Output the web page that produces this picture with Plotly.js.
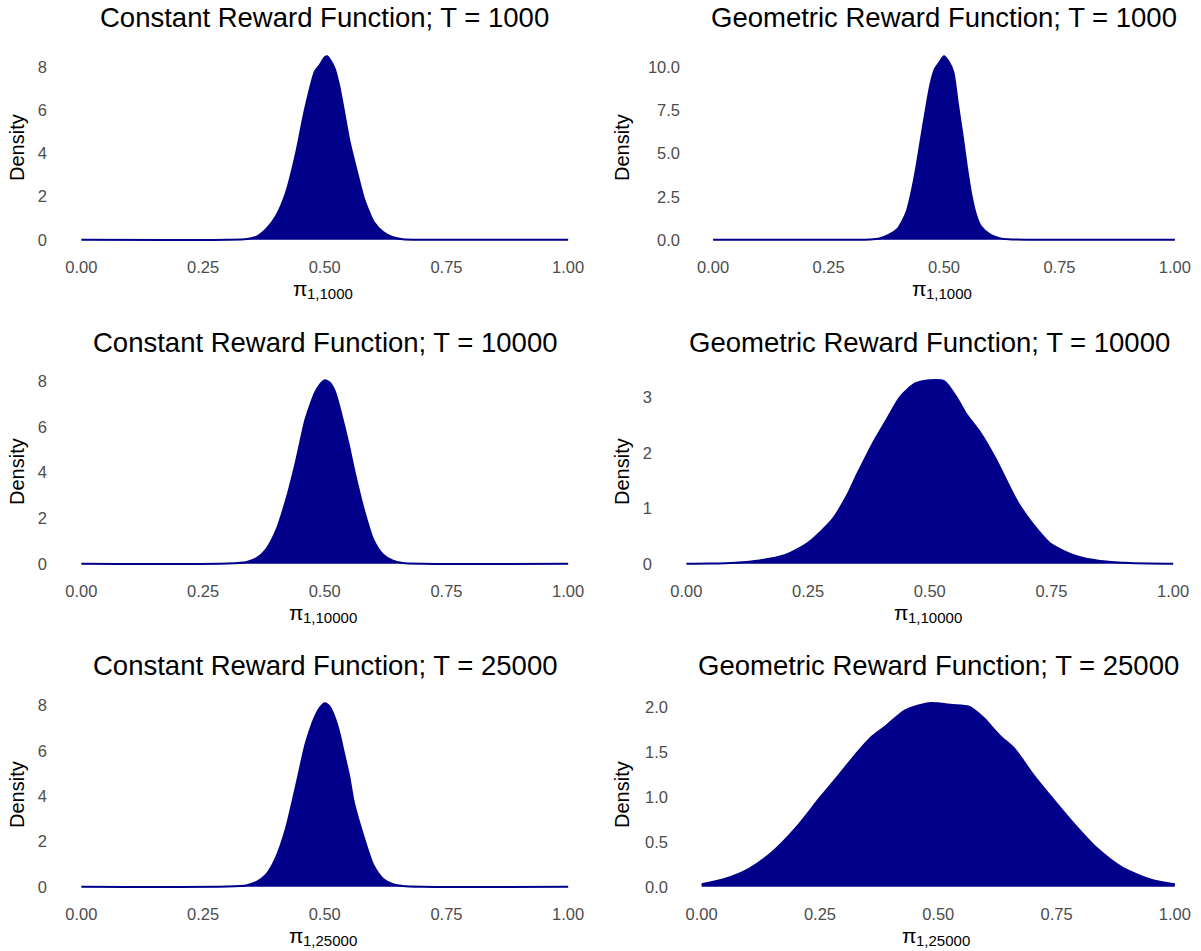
<!DOCTYPE html>
<html>
<head>
<meta charset="utf-8">
<script src="https://cdn.plot.ly/plotly-3.0.1.min.js"></script>
<style>html,body{margin:0;padding:0;background:#ffffff;}</style>
</head>
<body>
<div id="chart" style="width:1201px;height:951px;"></div>
<script>
// ---------- data ----------
const panelTitles = [
  "Constant Reward Function; T = 1000",
  "Geometric Reward Function; T = 1000",
  "Constant Reward Function; T = 10000",
  "Geometric Reward Function; T = 10000",
  "Constant Reward Function; T = 25000",
  "Geometric Reward Function; T = 25000"
];
const xAxisSymbol = "π";
const xAxisSubscripts = ["1,1000", "1,1000", "1,10000", "1,10000", "1,25000", "1,25000"];
const yAxisTitle = "Density";

const xTickVals = [0, 0.25, 0.5, 0.75, 1];
const xTickText = ["0.00", "0.25", "0.50", "0.75", "1.00"];
const yTickValsConst = [0, 2, 4, 6, 8];
const yTickTextConst = ["0", "2", "4", "6", "8"];
const yTickValsGeo1000 = [0, 2.5, 5, 7.5, 10];
const yTickTextGeo1000 = ["0.0", "2.5", "5.0", "7.5", "10.0"];
const yTickValsGeo10000 = [0, 1, 2, 3];
const yTickTextGeo10000 = ["0", "1", "2", "3"];
const yTickValsGeo25000 = [0, 0.5, 1, 1.5, 2];
const yTickTextGeo25000 = ["0.0", "0.5", "1.0", "1.5", "2.0"];

// Constant, T = 1000
const const1000X = [0, 0.30, 0.34, 0.36, 0.38, 0.40, 0.42, 0.44, 0.46, 0.48, 0.49, 0.50, 0.505, 0.52, 0.53, 0.54, 0.55, 0.56, 0.57, 0.58, 0.59, 0.60, 0.62, 0.64, 0.66, 0.70, 1];
const const1000Y = [0, 0.005, 0.04, 0.15, 0.5, 1.1, 2.15, 3.9, 6.1, 7.8, 8.1, 8.45, 8.5, 7.95, 7.1, 5.9, 4.65, 3.7, 2.8, 1.95, 1.35, 0.85, 0.36, 0.12, 0.03, 0.005, 0];

// Geometric, T = 1000
const geo1000X = [0, 0.30, 0.34, 0.36, 0.38, 0.40, 0.41, 0.42, 0.43, 0.44, 0.45, 0.46, 0.47, 0.48, 0.49, 0.50, 0.51, 0.52, 0.53, 0.54, 0.55, 0.56, 0.57, 0.58, 0.60, 0.62, 0.64, 0.70, 1];
const geo1000Y = [0, 0.002, 0.02, 0.08, 0.28, 0.65, 1.1, 1.7, 2.8, 4.2, 5.85, 7.46, 8.95, 9.9, 10.3, 10.66, 10.35, 9.75, 7.9, 6.1, 4.15, 2.5, 1.4, 0.78, 0.3, 0.1, 0.03, 0.002, 0];

// Constant, T = 10000
const const10000X = [0, 0.30, 0.34, 0.36, 0.38, 0.40, 0.42, 0.44, 0.46, 0.47, 0.48, 0.49, 0.50, 0.51, 0.52, 0.53, 0.54, 0.55, 0.56, 0.58, 0.60, 0.62, 0.64, 0.66, 0.70, 1];
const const10000Y = [0, 0.01, 0.08, 0.25, 0.65, 1.45, 2.75, 4.4, 6.3, 6.95, 7.5, 7.85, 8.05, 7.95, 7.6, 6.9, 6.05, 5.15, 4.15, 2.4, 1.05, 0.4, 0.14, 0.04, 0.005, 0];

// Geometric, T = 10000
const geo10000X = [0, 0.05, 0.10, 0.15, 0.20, 0.25, 0.30, 0.33, 0.35, 0.37, 0.39, 0.41, 0.44, 0.47, 0.50, 0.53, 0.555, 0.575, 0.605, 0.635, 0.68, 0.71, 0.75, 0.80, 0.85, 0.90, 0.95, 1];
const geo10000Y = [0.002, 0.005, 0.02, 0.06, 0.15, 0.38, 0.8, 1.23, 1.6, 1.95, 2.28, 2.58, 3.02, 3.25, 3.31, 3.29, 3.0, 2.7, 2.35, 1.9, 1.12, 0.74, 0.35, 0.14, 0.05, 0.02, 0.006, 0.002];

// Constant, T = 25000
const const25000X = [0, 0.30, 0.34, 0.36, 0.38, 0.40, 0.42, 0.44, 0.46, 0.47, 0.48, 0.49, 0.50, 0.51, 0.52, 0.53, 0.54, 0.55, 0.56, 0.58, 0.60, 0.62, 0.64, 0.66, 0.70, 1];
const const25000Y = [0, 0.01, 0.07, 0.22, 0.55, 1.3, 2.55, 4.35, 6.25, 6.95, 7.5, 7.9, 8.1, 7.95, 7.5, 6.8, 5.85, 4.9, 3.7, 2.2, 0.95, 0.35, 0.12, 0.04, 0.005, 0];

// Geometric, T = 25000
const geo25000X = [0, 0.05, 0.10, 0.15, 0.20, 0.25, 0.285, 0.33, 0.36, 0.39, 0.43, 0.48, 0.53, 0.565, 0.595, 0.63, 0.66, 0.70, 0.74, 0.785, 0.835, 0.89, 0.95, 1];
const geo25000Y = [0.03, 0.09, 0.2, 0.39, 0.66, 0.99, 1.21, 1.5, 1.67, 1.79, 1.96, 2.04, 2.02, 2.0, 1.88, 1.68, 1.54, 1.25, 0.99, 0.71, 0.43, 0.21, 0.08, 0.03];

// ---------- layout geometry (pixels) ----------
const W = 1201, H = 951;
const FILL = "#00008B";
const FONT = "Liberation Sans, Arial, Helvetica, sans-serif";
const PI_SIZE = 21, SUB_SIZE = 15;

const measureCtx = document.createElement("canvas").getContext("2d");
function textWidth(t, size) {
  measureCtx.font = size + 'px "Liberation Sans", Arial, sans-serif';
  return measureCtx.measureText(t).width;
}

const panels = [
  {x: const1000X,  y: const1000Y,  tv: yTickValsConst,    tt: yTickTextConst,    L: 57,  R: 592.5, T: 47,  B: 249, ytx: 17},
  {x: geo1000X,    y: geo1000Y,    tv: yTickValsGeo1000,  tt: yTickTextGeo1000,  L: 690, R: 1198,  T: 47,  B: 249, ytx: 622},
  {x: const10000X, y: const10000Y, tv: yTickValsConst,    tt: yTickTextConst,    L: 57,  R: 592.5, T: 371, B: 573, ytx: 17},
  {x: geo10000X,   y: geo10000Y,   tv: yTickValsGeo10000, tt: yTickTextGeo10000, L: 662, R: 1197.5,T: 371, B: 573, ytx: 622},
  {x: const25000X, y: const25000Y, tv: yTickValsConst,    tt: yTickTextConst,    L: 57,  R: 592.5, T: 694, B: 896, ytx: 17},
  {x: geo25000X,   y: geo25000Y,   tv: yTickValsGeo25000, tt: yTickTextGeo25000, L: 678, R: 1198.5,T: 694, B: 896, ytx: 622}
];

const data = [];
const layout = {
  width: W, height: H,
  margin: {l: 0, r: 0, t: 0, b: 0},
  paper_bgcolor: "#ffffff",
  plot_bgcolor: "#ffffff",
  showlegend: false,
  font: {family: FONT, color: "#000000"},
  annotations: []
};

panels.forEach((p, i) => {
  const n = i + 1;
  const xa = n === 1 ? "x" : "x" + n;
  const ya = n === 1 ? "y" : "y" + n;
  data.push({
    type: "scatter", mode: "lines",
    x: p.x, y: p.y,
    xaxis: xa, yaxis: ya,
    fill: "tozeroy", fillcolor: FILL,
    line: {color: FILL, width: 2, shape: "spline", smoothing: 0.7},
    hoverinfo: "skip"
  });
  const ymax = Math.max.apply(null, p.y);
  const xKey = n === 1 ? "xaxis" : "xaxis" + n;
  const yKey = n === 1 ? "yaxis" : "yaxis" + n;
  layout[xKey] = {
    domain: [p.L / W, p.R / W],
    anchor: ya,
    range: [-0.05, 1.05],
    tickvals: xTickVals, ticktext: xTickText,
    ticks: "", showgrid: false, zeroline: false, showline: false,
    tickfont: {family: FONT, size: 16.5, color: "#4D4D4D"},
    ticklabelstandoff: 6,
    fixedrange: true
  };
  layout[yKey] = {
    domain: [1 - p.B / H, 1 - p.T / H],
    anchor: xa,
    range: [-0.05 * ymax, 1.05 * ymax],
    tickvals: p.tv, ticktext: p.tt,
    ticks: "", showgrid: false, zeroline: false, showline: false,
    tickfont: {family: FONT, size: 16.5, color: "#4D4D4D"},
    ticklabelstandoff: 9,
    fixedrange: true
  };
  const cxPx = (p.L + p.R) / 2;
  const cx = cxPx / W;
  // panel title
  layout.annotations.push({
    text: panelTitles[i], xref: "paper", yref: "paper",
    x: cx, y: 1 - (p.T - 29) / H, xanchor: "center", yanchor: "middle",
    showarrow: false, font: {family: FONT, size: 27.5, color: "#000000"}
  });
  // x-axis title: symbol + subscript
  const wPi = textWidth(xAxisSymbol, PI_SIZE);
  const wSub = textWidth(xAxisSubscripts[i], SUB_SIZE);
  const startPx = cxPx - (wPi + wSub) / 2;
  layout.annotations.push({
    text: xAxisSymbol, xref: "paper", yref: "paper",
    x: (startPx + wPi) / W, y: 1 - (p.B + 39) / H, xanchor: "right", yanchor: "middle",
    showarrow: false, borderpad: 0, font: {family: FONT, size: PI_SIZE, color: "#000000"}
  });
  layout.annotations.push({
    text: xAxisSubscripts[i], xref: "paper", yref: "paper",
    x: (startPx + wPi - 3) / W, y: 1 - (p.B + 44) / H, xanchor: "left", yanchor: "middle",
    showarrow: false, borderpad: 0, font: {family: FONT, size: SUB_SIZE, color: "#000000"}
  });
  // y-axis title
  layout.annotations.push({
    text: yAxisTitle, xref: "paper", yref: "paper", textangle: -90,
    x: p.ytx / W, y: 1 - ((p.T + p.B) / 2) / H, xanchor: "center", yanchor: "middle",
    showarrow: false, font: {family: FONT, size: 20, color: "#000000"}
  });
});

Plotly.newPlot("chart", data, layout, {staticPlot: true, displayModeBar: false});
</script>
</body>
</html>
